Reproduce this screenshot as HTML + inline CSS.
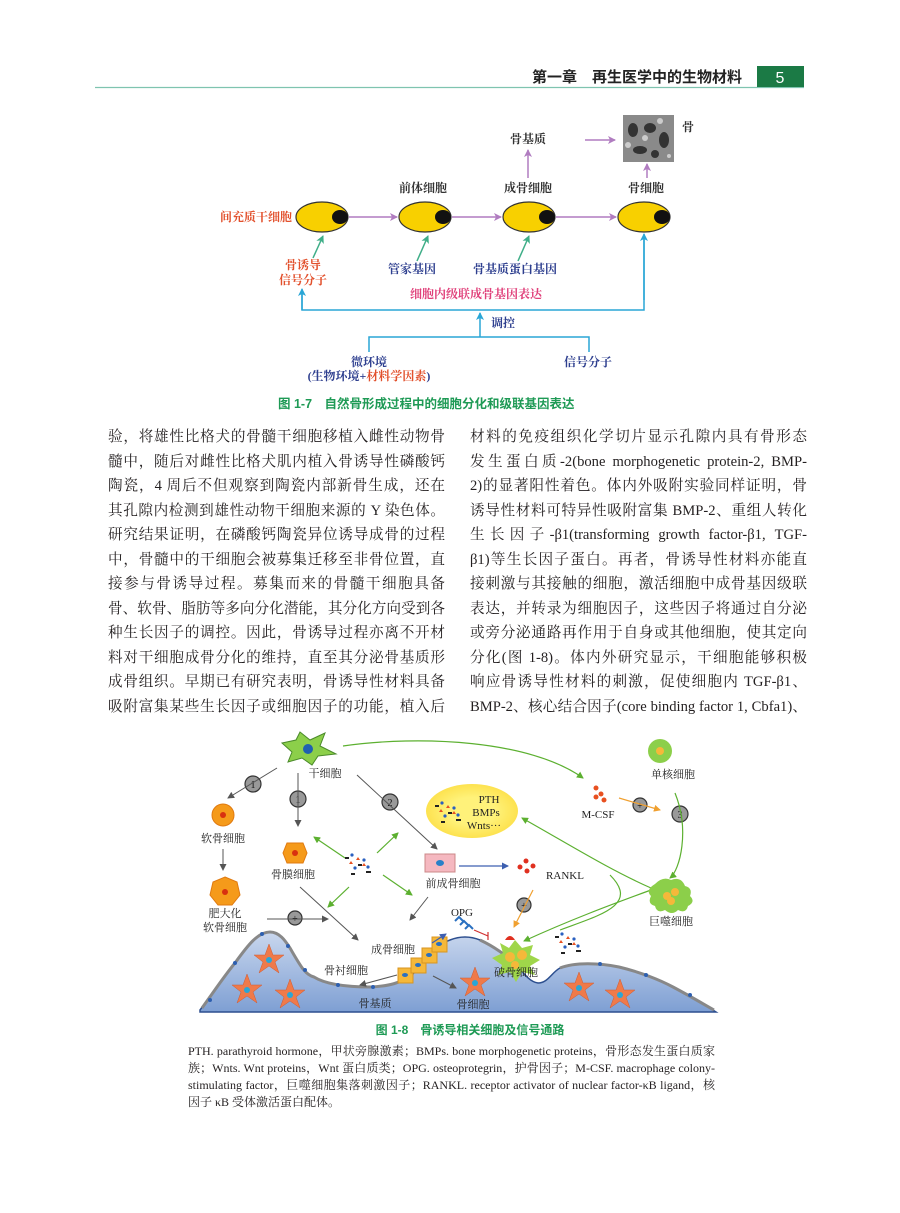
<!DOCTYPE html>
<html><head><meta charset="utf-8"><style>
html,body{margin:0;padding:0;background:#fff}
body{width:900px;height:1213px;position:relative;overflow:hidden;font-family:"Liberation Serif","Noto Serif CJK SC",serif;color:#231f20}
.l{width:337px;height:24.55px;font-size:14.6px;line-height:18px;text-align:justify;text-align-last:justify;white-space:nowrap;overflow:visible}
.n{position:absolute;left:188px;width:527px;font-size:12px;line-height:17px;text-align:justify;text-align-last:justify;white-space:nowrap;font-family:"Liberation Serif","Noto Serif CJK SC",serif}
svg text{font-family:"Liberation Serif","Noto Serif CJK SC",serif}
</style></head><body>
<svg width="900" height="1213" style="position:absolute;left:0;top:0">
<defs>
<marker id="pa" markerWidth="8" markerHeight="8" refX="7" refY="4" orient="auto" markerUnits="userSpaceOnUse"><path d="M0,0 L8,4 L0,8 L2,4z" fill="#b07cc0"/></marker>
<marker id="ga" markerWidth="8" markerHeight="8" refX="7" refY="4" orient="auto" markerUnits="userSpaceOnUse"><path d="M0,0 L8,4 L0,8 L2,4z" fill="#3fae88"/></marker>
<marker id="ba" markerWidth="8" markerHeight="8" refX="7" refY="4" orient="auto" markerUnits="userSpaceOnUse"><path d="M0,0 L8,4 L0,8 L2,4z" fill="#2aa6d6"/></marker>
<marker id="ka" markerWidth="7" markerHeight="7" refX="6" refY="3.5" orient="auto" markerUnits="userSpaceOnUse"><path d="M0,0 L7,3.5 L0,7z" fill="#555"/></marker>
<marker id="la" markerWidth="7" markerHeight="7" refX="6" refY="3.5" orient="auto" markerUnits="userSpaceOnUse"><path d="M0,0 L7,3.5 L0,7z" fill="#5cb030"/></marker>
<marker id="oa" markerWidth="7" markerHeight="7" refX="6" refY="3.5" orient="auto" markerUnits="userSpaceOnUse"><path d="M0,0 L7,3.5 L0,7z" fill="#f0a030"/></marker>
<marker id="ua" markerWidth="7" markerHeight="7" refX="6" refY="3.5" orient="auto" markerUnits="userSpaceOnUse"><path d="M0,0 L7,3.5 L0,7z" fill="#3d5fb0"/></marker>
<linearGradient id="bone" x1="0" y1="0" x2="0" y2="1"><stop offset="0" stop-color="#c9d7ee"/><stop offset="1" stop-color="#7e9fd3"/></linearGradient>
<radialGradient id="yel"><stop offset="0.5" stop-color="#fff27a"/><stop offset="1" stop-color="#fde24f"/></radialGradient>
</defs>
<line x1="95" y1="87.5" x2="804" y2="87.5" stroke="#7fc4b0" stroke-width="1.2"/>
<rect x="757" y="66" width="47" height="21" fill="#1b7a45"/>
<text x="780" y="83" font-size="16" fill="#fff" text-anchor="middle" style="font-family:'Liberation Sans',sans-serif">5</text>
<text x="742" y="82" font-size="15" fill="#222" text-anchor="end" font-weight="bold" style="font-family:'Liberation Sans','Noto Sans CJK SC',sans-serif">第一章　再生医学中的生物材料</text>

<g stroke="#b07cc0" stroke-width="1.5" fill="none">
<line x1="349" y1="217" x2="397" y2="217" marker-end="url(#pa)"/>
<line x1="452" y1="217" x2="501" y2="217" marker-end="url(#pa)"/>
<line x1="556" y1="217" x2="616" y2="217" marker-end="url(#pa)"/>
<line x1="528" y1="178" x2="528" y2="150" marker-end="url(#pa)"/>
<line x1="585" y1="140" x2="615" y2="140" marker-end="url(#pa)"/>
<line x1="647" y1="178" x2="647" y2="164" marker-end="url(#pa)"/>
</g>
<g fill="#f8d000" stroke="#333" stroke-width="1.2">
<ellipse cx="322" cy="217" rx="26" ry="15"/><ellipse cx="425" cy="217" rx="26" ry="15"/>
<ellipse cx="529" cy="217" rx="26" ry="15"/><ellipse cx="644" cy="217" rx="26" ry="15"/>
</g>
<g fill="#111"><ellipse cx="340" cy="217" rx="8" ry="7"/><ellipse cx="443" cy="217" rx="8" ry="7"/><ellipse cx="547" cy="217" rx="8" ry="7"/><ellipse cx="662" cy="217" rx="8" ry="7"/></g>
<rect x="623" y="115" width="51" height="47" fill="#8a8a8a"/>
<g fill="#333"><ellipse cx="633" cy="130" rx="5" ry="7"/><ellipse cx="650" cy="128" rx="6" ry="5"/><ellipse cx="664" cy="140" rx="5" ry="8"/><ellipse cx="640" cy="150" rx="7" ry="4"/><ellipse cx="655" cy="154" rx="4" ry="4"/></g>
<g fill="#ccc"><circle cx="628" cy="145" r="3"/><circle cx="645" cy="138" r="3"/><circle cx="660" cy="121" r="3"/><circle cx="669" cy="156" r="2"/></g>
<g stroke="#3fae88" stroke-width="1.5"><line x1="313" y1="258" x2="323" y2="236" marker-end="url(#ga)"/><line x1="417" y1="261" x2="428" y2="236" marker-end="url(#ga)"/><line x1="518" y1="261" x2="529" y2="236" marker-end="url(#ga)"/></g>
<g stroke="#2aa6d6" stroke-width="1.5" fill="none">
<polyline points="302,290 302,310 644,310 644,235"/>
<line x1="302" y1="310" x2="302" y2="289" marker-end="url(#ba)"/>
<line x1="644" y1="300" x2="644" y2="234" marker-end="url(#ba)"/>
<line x1="480" y1="337" x2="480" y2="313" marker-end="url(#ba)"/>
<polyline points="369,352 369,337 589,337 589,352"/>
</g>
<g font-size="12" text-anchor="middle" font-weight="bold">
<text x="256" y="221" fill="#e2502c">间充质干细胞</text>
<text x="423" y="192" fill="#333">前体细胞</text><text x="528" y="192" fill="#333">成骨细胞</text><text x="646" y="192" fill="#333">骨细胞</text>
<text x="528" y="143" fill="#333">骨基质</text><text x="688" y="131" fill="#333">骨</text>
<text x="303" y="269" fill="#e2502c">骨诱导</text><text x="303" y="284" fill="#e2502c">信号分子</text>
<text x="412" y="273" fill="#2e3f8f">管家基因</text><text x="515" y="273" fill="#2e3f8f">骨基质蛋白基因</text>
<text x="476" y="298" fill="#e0407a">细胞内级联成骨基因表达</text>
<text x="503" y="327" fill="#2e3f8f">调控</text>
<text x="369" y="366" fill="#2e3f8f">微环境</text>
<text x="369" y="380" fill="#2e3f8f">(生物环境+<tspan fill="#e2502c">材料学因素</tspan>)</text>
<text x="588" y="366" fill="#2e3f8f">信号分子</text>
</g>
<text x="278" y="408" font-size="12.5" fill="#1e9a55" font-weight="bold" style="font-family:'Liberation Sans','Noto Sans CJK SC',sans-serif">图 1-7　自然骨形成过程中的细胞分化和级联基因表达</text>

<path d="M200,1012 L200,1010 C215,990 225,975 235,963 C248,945 258,932 270,932 C280,932 286,942 290,948 C300,965 305,975 314,977 C325,984 345,987 371,987 C390,986 400,983 412,975 C425,962 435,945 450,940 C460,936 470,936 480,940 C495,947 505,955 515,963 C525,975 530,982 538,983 C548,983 552,972 560,968 C575,962 600,963 619,967 C640,972 660,980 673,987 C690,996 705,1005 716,1012 Z" fill="url(#bone)" stroke="#2d4f8f" stroke-width="1.5"/>
<path d="M202,1008 C215,990 225,975 235,963 C248,945 258,932 270,932 C280,932 286,942 290,948 C300,965 305,975 314,977 C325,984 345,987 371,987 C390,986 400,983 412,975" fill="none" stroke="#888" stroke-width="3"/>
<path d="M480,940 C495,947 505,955 515,963 M560,968 C575,962 600,963 619,967 C640,972 660,980 673,987 C690,996 705,1005 714,1010" fill="none" stroke="#888" stroke-width="3"/>
<g fill="#2d5fb0"><circle cx="235" cy="963" r="2"/><circle cx="262" cy="934" r="2"/><circle cx="288" cy="946" r="2"/><circle cx="305" cy="970" r="2"/><circle cx="338" cy="985" r="2"/><circle cx="373" cy="987" r="2"/><circle cx="600" cy="964" r="2"/><circle cx="646" cy="975" r="2"/><circle cx="690" cy="995" r="2"/><circle cx="210" cy="1000" r="2"/></g>
<g fill="#ef7a4a" stroke="#d05a30" stroke-width="0.5">
<polygon id="st" points="0,-16 4,-5 15,-5 6,2 10,13 0,6 -10,13 -6,2 -15,-5 -4,-5" transform="translate(269,960)"/>
<use href="#st" transform="translate(-22,30)"/><use href="#st" transform="translate(21,35)"/><use href="#st" transform="translate(206,23)"/><use href="#st" transform="translate(310,28)"/><use href="#st" transform="translate(351,35)"/>
</g>
<g fill="#2aa6d6"><circle cx="269" cy="960" r="3"/><circle cx="247" cy="990" r="3"/><circle cx="290" cy="995" r="3"/><circle cx="475" cy="983" r="3"/><circle cx="579" cy="988" r="3"/><circle cx="620" cy="995" r="3"/></g>
<g fill="#f5b83a" stroke="#d89520"><rect x="398" y="968" width="15" height="15"/><rect x="411" y="958" width="15" height="15"/><rect x="422" y="948" width="15" height="15"/><rect x="432" y="937" width="15" height="15"/></g>
<g fill="#2a70c0"><ellipse cx="405" cy="975" rx="3" ry="2"/><ellipse cx="418" cy="965" rx="3" ry="2"/><ellipse cx="429" cy="955" rx="3" ry="2"/><ellipse cx="439" cy="944" rx="3" ry="2"/></g>
<polygon points="515,940 522,948 533,945 530,955 540,960 530,966 535,975 522,972 516,982 510,972 498,975 502,965 492,958 503,953 500,943 509,948" fill="#9fd64a"/>
<circle cx="510" cy="957" r="5" fill="#f5b83a"/><circle cx="522" cy="955" r="5" fill="#f5b83a"/><circle cx="515" cy="965" r="4" fill="#f5b83a"/>
<path d="M505,940 q5,-8 10,0" fill="#e03020"/>
<polygon points="282,743 296,740 300,732 310,740 325,733 320,746 336,754 318,756 312,765 302,758 288,762 292,752" fill="#8ccf4a" stroke="#4a8a2a" stroke-width="1"/>
<circle cx="308" cy="749" r="5" fill="#2060b0"/>
<g fill="#999" stroke="#333" stroke-width="1.2"><circle cx="253" cy="784" r="8"/><circle cx="298" cy="799" r="8"/><circle cx="390" cy="802" r="8"/><circle cx="680" cy="814" r="8"/><circle cx="295" cy="918" r="7"/><circle cx="640" cy="805" r="7"/><circle cx="524" cy="905" r="7"/></g>
<g font-size="10" text-anchor="middle" fill="#111"><text x="253" y="788">1</text><text x="298" y="803">1</text><text x="390" y="806">2</text><text x="680" y="818">3</text><text x="295" y="922">+</text><text x="640" y="809">+</text><text x="524" y="909">+</text></g>
<g stroke="#555" stroke-width="1" fill="none">
<line x1="277" y1="768" x2="228" y2="798" marker-end="url(#ka)"/>
<line x1="298" y1="773" x2="298" y2="826" marker-end="url(#ka)"/>
<line x1="357" y1="775" x2="437" y2="849" marker-end="url(#ka)"/>
<line x1="223" y1="849" x2="223" y2="870" marker-end="url(#ka)"/>
<line x1="267" y1="919" x2="328" y2="919" marker-end="url(#ka)"/>
<line x1="300" y1="887" x2="358" y2="940" marker-end="url(#ka)"/>
<line x1="428" y1="897" x2="410" y2="920" marker-end="url(#ka)"/>
<line x1="397" y1="975" x2="360" y2="985" marker-end="url(#ka)"/>
<line x1="433" y1="976" x2="456" y2="988" marker-end="url(#ka)"/>
</g>
<g stroke="#5cb030" stroke-width="1.2" fill="none">
<path d="M343,746 C420,735 530,740 583,778" marker-end="url(#la)"/>
<line x1="345" y1="858" x2="314" y2="837" marker-end="url(#la)"/>
<line x1="377" y1="853" x2="398" y2="833" marker-end="url(#la)"/>
<line x1="349" y1="887" x2="328" y2="907" marker-end="url(#la)"/>
<line x1="383" y1="875" x2="412" y2="895" marker-end="url(#la)"/>
<path d="M675,793 C690,830 680,870 670,878" marker-end="url(#la)"/>
<path d="M651,888 C610,870 570,845 522,818" marker-end="url(#la)"/>
<path d="M651,890 C610,905 570,920 524,941" marker-end="url(#la)"/>
<path d="M610,875 C640,905 600,915 560,930"/>
</g>
<g stroke-width="1.2" fill="none">
<line x1="459" y1="866" x2="508" y2="866" stroke="#3d5fb0" marker-end="url(#ua)"/>
<line x1="432" y1="943" x2="446" y2="934" stroke="#3d5fb0" marker-end="url(#ua)"/>
<line x1="533" y1="890" x2="514" y2="927" stroke="#f0a030" marker-end="url(#oa)"/>
<line x1="619" y1="798" x2="660" y2="810" stroke="#f0a030" marker-end="url(#oa)"/>
<path d="M474,930 L488,936 M488,932 L488,940" stroke="#d03030"/>
</g>
<circle cx="223" cy="815" r="11" fill="#f59a1a" stroke="#e07a10"/><circle cx="223" cy="815" r="3" fill="#d83010"/>
<polygon points="225,877 237,882 240,895 232,905 218,905 210,895 213,882" fill="#f59a1a" stroke="#e07a10"/><circle cx="225" cy="892" r="3" fill="#d83010"/>
<polygon points="287,843 303,843 307,853 303,863 287,863 283,853" fill="#f59a1a" stroke="#e07a10"/><circle cx="295" cy="853" r="3" fill="#d83010"/>
<rect x="425" y="854" width="30" height="18" fill="#f5b8c0" stroke="#c88"/><ellipse cx="440" cy="863" rx="4" ry="3" fill="#2a80c8"/>
<ellipse cx="472" cy="811" rx="46" ry="27" fill="url(#yel)"/>
<circle cx="660" cy="751" r="12" fill="#8ccf4a"/><circle cx="660" cy="751" r="4" fill="#f5b83a"/>
<path d="M655,884 q8,-8 16,-4 q10,-4 14,6 q8,2 5,10 q6,6 -2,10 q-2,8 -10,4 q-6,6 -13,0 q-8,4 -10,-4 q-8,-2 -4,-10 q-6,-6 4,-12z" fill="#8ccf4a"/>
<circle cx="667" cy="896" r="4" fill="#f5b83a"/><circle cx="675" cy="892" r="4" fill="#f5b83a"/><circle cx="671" cy="901" r="4" fill="#f5b83a"/>
<g><circle cx="596" cy="788" r="2.5" fill="#e85020"/><circle cx="601" cy="794" r="2.5" fill="#e85020"/><circle cx="596" cy="797" r="2.5" fill="#e85020"/><circle cx="604" cy="800" r="2.5" fill="#e85020"/>
<circle cx="520" cy="867" r="2.5" fill="#e03020"/><circle cx="526" cy="861" r="2.5" fill="#e03020"/><circle cx="527" cy="871" r="2.5" fill="#e03020"/><circle cx="533" cy="866" r="2.5" fill="#e03020"/>
<path d="M455,921 l4,-4 l4,4 M460,925 l4,-4 l4,4 M465,929 l4,-4 l4,4" stroke="#2a70c0" stroke-width="2" fill="none"/></g>
<g id="mol"><rect x="345" y="857" width="4" height="2" fill="#222"/><circle cx="352" cy="855" r="1.6" fill="#2a60c0"/><path d="M356,860 l2,-3 l2,3z" fill="#e85020"/><rect x="358" y="864" width="4" height="2" fill="#222"/><circle cx="364" cy="860" r="1.6" fill="#2a60c0"/><path d="M362,866 l2,-3 l2,3z" fill="#e85020"/><circle cx="368" cy="867" r="1.6" fill="#2a60c0"/><rect x="366" y="871" width="5" height="2" fill="#222"/><path d="M349,864 l2,-3 l2,3z" fill="#e85020"/><circle cx="355" cy="868" r="1.6" fill="#2a60c0"/><rect x="351" y="873" width="4" height="2" fill="#222"/></g>
<use href="#mol" transform="translate(90,-52)"/><use href="#mol" transform="translate(210,79)"/>
<g font-size="11" text-anchor="middle" fill="#222">
<text x="325" y="777">干细胞</text><text x="223" y="842">软骨细胞</text><text x="225" y="917">肥大化</text><text x="225" y="931">软骨细胞</text>
<text x="293" y="878">骨膜细胞</text><text x="453" y="887">前成骨细胞</text><text x="393" y="953">成骨细胞</text>
<text x="346" y="974">骨衬细胞</text><text x="375" y="1007">骨基质</text><text x="473" y="1008">骨细胞</text><text x="516" y="976">破骨细胞</text>
<text x="462" y="916">OPG</text><text x="673" y="778">单核细胞</text><text x="598" y="818">M-CSF</text><text x="671" y="925">巨噬细胞</text>
<text x="489" y="803">PTH</text><text x="486" y="816">BMPs</text><text x="484" y="829">Wnts···</text>
<text x="565" y="879">RANKL</text>
</g>
<text x="470" y="1034" font-size="12" fill="#1e9a55" text-anchor="middle" font-weight="bold" style="font-family:'Liberation Sans','Noto Sans CJK SC',sans-serif">图 1-8　骨诱导相关细胞及信号通路</text>
</svg>

<div style="position:absolute;left:108px;top:428px;width:337px">
<div class="l">验，将雄性比格犬的骨髓干细胞移植入雌性动物骨</div>
<div class="l">髓中，随后对雌性比格犬肌内植入骨诱导性磷酸钙</div>
<div class="l">陶瓷，4 周后不但观察到陶瓷内部新骨生成，还在</div>
<div class="l">其孔隙内检测到雄性动物干细胞来源的 Y 染色体。</div>
<div class="l">研究结果证明，在磷酸钙陶瓷异位诱导成骨的过程</div>
<div class="l">中，骨髓中的干细胞会被募集迁移至非骨位置，直</div>
<div class="l">接参与骨诱导过程。募集而来的骨髓干细胞具备</div>
<div class="l">骨、软骨、脂肪等多向分化潜能，其分化方向受到各</div>
<div class="l">种生长因子的调控。因此，骨诱导过程亦离不开材</div>
<div class="l">料对干细胞成骨分化的维持，直至其分泌骨基质形</div>
<div class="l">成骨组织。早期已有研究表明，骨诱导性材料具备</div>
<div class="l">吸附富集某些生长因子或细胞因子的功能，植入后</div>
</div>
<div style="position:absolute;left:470px;top:428px;width:336px">
<div class="l">材料的免疫组织化学切片显示孔隙内具有骨形态</div>
<div class="l">发生蛋白质-2(bone morphogenetic protein-2, BMP-</div>
<div class="l">2)的显著阳性着色。体内外吸附实验同样证明，骨</div>
<div class="l">诱导性材料可特异性吸附富集 BMP-2、重组人转化</div>
<div class="l">生长因子-β1(transforming growth factor-β1, TGF-</div>
<div class="l">β1)等生长因子蛋白。再者，骨诱导性材料亦能直</div>
<div class="l">接刺激与其接触的细胞，激活细胞中成骨基因级联</div>
<div class="l">表达，并转录为细胞因子，这些因子将通过自分泌</div>
<div class="l">或旁分泌通路再作用于自身或其他细胞，使其定向</div>
<div class="l">分化(图 1-8)。体内外研究显示，干细胞能够积极</div>
<div class="l">响应骨诱导性材料的刺激，促使细胞内 TGF-β1、</div>
<div class="l">BMP-2、核心结合因子(core binding factor 1, Cbfa1)、</div>
</div>
<div class="n" style="top:1043px">PTH. parathyroid hormone，甲状旁腺激素；BMPs. bone morphogenetic proteins，骨形态发生蛋白质家</div>
<div class="n" style="top:1060px">族；Wnts. Wnt proteins，Wnt 蛋白质类；OPG. osteoprotegrin，护骨因子；M-CSF. macrophage colony-</div>
<div class="n" style="top:1077px">stimulating factor，巨噬细胞集落刺激因子；RANKL. receptor activator of nuclear factor-κB ligand，核</div>
<div class="n" style="top:1094px;text-align-last:left">因子 κB 受体激活蛋白配体。</div>
</body></html>
